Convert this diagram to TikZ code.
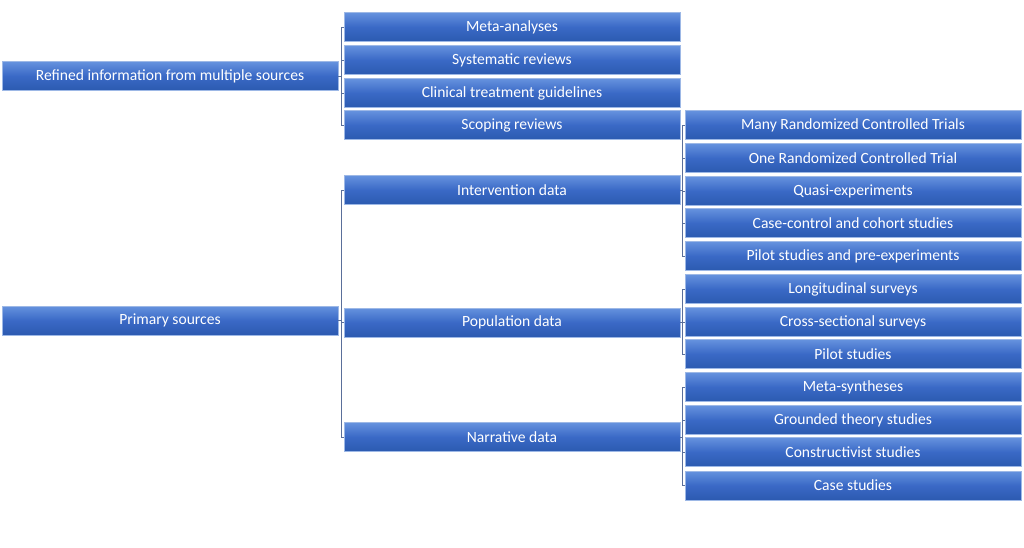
\documentclass[tikz,border=0pt]{standalone}
\usepackage{fontspec}
\setmainfont{Carlito}
\begin{document}
\begin{tikzpicture}[x=1pt,y=-1pt,
  box/.style={draw=boxedge, line width=0.8pt, top color=boxtop, bottom color=boxbot, middle color=boxmid,
    minimum width=336pt, minimum height=29pt, inner sep=0pt, text=white,
    font=\fontsize{15.6}{17}\selectfont},
  conn/.style={draw=connc, line width=0.7pt}]
\definecolor{boxtop}{HTML}{6592DE}
\definecolor{boxmid}{HTML}{3A69C6}
\definecolor{boxbot}{HTML}{2C5AB0}
\definecolor{boxedge}{HTML}{9DB8E6}
\definecolor{connc}{HTML}{5A6F9A}
\useasboundingbox (0,0) rectangle (1024,547);
% left column
\node[box] (ref) at (170,76) {Refined information from multiple sources};
\node[box] (prim) at (170,320.5) {Primary sources};
% middle column
\node[box] (meta) at (512,27) {Meta-analyses};
\node[box] (sys) at (512,60) {Systematic reviews};
\node[box] (clin) at (512,93) {Clinical treatment guidelines};
\node[box] (scop) at (512,125) {Scoping reviews};
\node[box] (int) at (512,190) {Intervention data};
\node[box] (pop) at (512,322.5) {Population data};
\node[box] (nar) at (512,437) {Narrative data};
% right column
\node[box] (r1) at (853,125) {Many Randomized Controlled Trials};
\node[box] (r2) at (853,158) {One Randomized Controlled Trial};
\node[box] (r3) at (853,191) {Quasi-experiments};
\node[box] (r4) at (853,223) {Case-control and cohort studies};
\node[box] (r5) at (853,256) {Pilot studies and pre-experiments};
\node[box] (r6) at (853,289) {Longitudinal surveys};
\node[box] (r7) at (853,322) {Cross-sectional surveys};
\node[box] (r8) at (853,354) {Pilot studies};
\node[box] (r9) at (853,387) {Meta-syntheses};
\node[box] (r10) at (853,420) {Grounded theory studies};
\node[box] (r11) at (853,452) {Constructivist studies};
\node[box] (r12) at (853,485.5) {Case studies};
% connectors
\foreach \c in {meta,sys,clin,scop} \draw[conn] (ref.east) -- ++(3,0) |- (\c.west);
\foreach \c in {int,pop,nar} \draw[conn] (prim.east) -- ++(3,0) |- (\c.west);
\foreach \c in {r1,r2,r3,r4,r5} \draw[conn] (int.east) -- ++(2,0) |- (\c.west);
\foreach \c in {r6,r7,r8} \draw[conn] (pop.east) -- ++(2,0) |- (\c.west);
\foreach \c in {r9,r10,r11,r12} \draw[conn] (nar.east) -- ++(2,0) |- (\c.west);
\end{tikzpicture}
\end{document}
